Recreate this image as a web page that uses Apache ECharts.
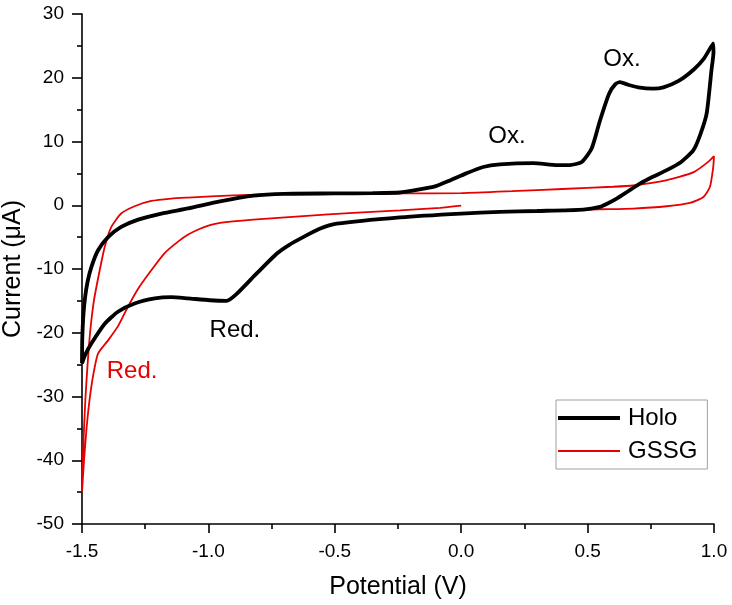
<!DOCTYPE html>
<html>
<head>
<meta charset="utf-8">
<script src="https://cdn.jsdelivr.net/npm/echarts@6/dist/echarts.min.js"></script>
<style>
html,body{margin:0;padding:0;background:#fff;}
#chart{width:732px;height:605px;}
</style>
</head>
<body>
<div id="chart"></div>
<script>
// ---- Data ----
const xTicks = [-1.5, -1.0, -0.5, 0.0, 0.5, 1.0];
const yTicks = [-50, -40, -30, -20, -10, 0, 10, 20, 30];

// Holo CV loop, in scan order (V, µA)
const holoPotential = [
  -1.5, -1.499, -1.495, -1.488, -1.478, -1.463, -1.437, -1.397, -1.345, -1.278, -1.186, -1.08, -0.954, -0.822, -0.7, -0.5, -0.35, -0.242, -0.176, -0.1, -0.044, 0.02, 0.087, 0.153, 0.285, 0.38, 0.43, 0.477, 0.516, 0.549, 0.585, 0.61, 0.628, 0.66, 0.7, 0.759, 0.8, 0.86, 0.92, 0.96, 0.997,
  0.998, 0.99, 0.971, 0.945, 0.918, 0.87, 0.813, 0.76, 0.707, 0.66, 0.615, 0.575, 0.549, 0.483, 0.3, 0.153, 0.0, -0.242, -0.493, -0.56, -0.625, -0.68, -0.73, -0.809, -0.888, -0.928, -0.994, -1.081, -1.147, -1.212, -1.292, -1.358, -1.41, -1.463, -1.488, -1.5
];
const holoCurrent = [
  -24.8, -21, -17.5, -14.5, -12, -9.7, -7.1, -5.0, -3.4, -2.25, -1.3, -0.5, 0.6, 1.5, 1.8, 1.85, 1.9, 2.0, 2.4, 3.0, 3.9, 5.0, 6.0, 6.4, 6.6, 6.3, 6.3, 6.8, 8.9, 13.3, 17.5, 19.0, 19.3, 18.9, 18.5, 18.3, 18.5, 19.5, 21.3, 23.0, 25.4,
  24, 21.2, 14.4, 11, 8.6, 6.8, 5.5, 4.5, 3.4, 2.2, 1.05, 0.2, -0.26, -0.68, -0.9, -1.05, -1.3, -1.9, -2.9, -3.7, -5.0, -6.2, -7.6, -10.7, -13.9, -15.0, -14.9, -14.6, -14.4, -14.6, -15.4, -16.7, -18.6, -21.7, -23.5, -24.8
];

// GSSG CV loop, in scan order (V, µA)
const gssgPotential = [
  0.0, -0.084, -0.242, -0.427, -0.625, -0.823, -0.954, -1.0, -1.04, -1.08, -1.12, -1.173, -1.226, -1.278, -1.318, -1.358, -1.397, -1.437, -1.455, -1.47, -1.482, -1.492, -1.5,
  -1.497, -1.492, -1.486, -1.478, -1.468, -1.453, -1.43, -1.41, -1.384, -1.345, -1.292, -1.226, -1.147, -1.08, -0.9, -0.7, -0.5, -0.24, 0.0, 0.2, 0.4, 0.6, 0.68, 0.81, 0.92, 0.977, 1.0,
  0.997, 0.984, 0.958, 0.905, 0.813, 0.681, 0.549, 0.45
];
const gssgCurrent = [
  -0.05, -0.4, -0.8, -1.2, -1.7, -2.25, -2.75, -3.2, -3.8, -4.6, -5.7, -7.5, -10.2, -13.1, -15.9, -19.0, -21.2, -23.3, -26.5, -30.5, -35, -40, -45,
  -40, -35, -30, -25, -20, -15, -10.2, -6.5, -3.4, -1.3, -0.16, 0.67, 1.05, 1.2, 1.55, 1.75, 1.8, 1.85, 1.9, 2.2, 2.55, 2.9, 3.1, 3.9, 5.2, 6.8, 7.7,
  6.0, 2.9, 1.3, 0.37, -0.16, -0.52, -0.63, -0.72
];

// Peak annotations
const noteText = ['Ox.', 'Ox.', 'Red.', 'Red.'];
const notePotential = [0.636, 0.181, -0.895, -1.302];
const noteCurrent = [22.9, 10.8, -19.6, -26.0];
const noteColor = ['#000000', '#000000', '#000000', '#e60000'];

// ---- Chart ----
const FONT = "'Liberation Sans', Arial, Helvetica, sans-serif";
const zip = (a, b) => a.map((v, i) => [v, b[i]]);

const chart = echarts.init(document.getElementById('chart'), null, {renderer: 'canvas'});

const axisCommon = {
  axisLine: {show: true, onZero: false, lineStyle: {color: '#000', width: 1.6}},
  axisTick: {show: true, inside: false, lineStyle: {color: '#000', width: 1.6}},
  minorTick: {show: true, splitNumber: 2, lineStyle: {color: '#000', width: 1.6}},
  splitLine: {show: false},
  nameLocation: 'middle',
  nameTextStyle: {fontFamily: FONT, fontSize: 25, color: '#000'}
};

chart.setOption({
  animation: false,
  backgroundColor: '#ffffff',
  grid: {left: 82, right: 18, top: 14, bottom: 81, containLabel: false, outerBoundsMode: 'none'},
  xAxis: Object.assign({}, axisCommon, {
    type: 'value',
    min: xTicks[0], max: xTicks[xTicks.length - 1], interval: 0.5,
    name: 'Potential (V)', nameGap: 51,
    axisTick: Object.assign({}, axisCommon.axisTick, {length: 9}),
    minorTick: Object.assign({}, axisCommon.minorTick, {length: 5}),
    axisLabel: {fontFamily: FONT, fontSize: 19, color: '#000', margin: 18,
      formatter: v => v.toFixed(1)}
  }),
  yAxis: Object.assign({}, axisCommon, {
    type: 'value',
    min: yTicks[0], max: yTicks[yTicks.length - 1], interval: 10,
    name: 'Current (\u03bcA)', nameGap: 51, nameRotate: 90,
    axisTick: Object.assign({}, axisCommon.axisTick, {length: 10}),
    minorTick: Object.assign({}, axisCommon.minorTick, {length: 5}),
    axisLabel: {fontFamily: FONT, fontSize: 19, color: '#000', margin: 18}
  }),
  legend: {
    orient: 'vertical', left: 556, top: 400,
    padding: [6, 10, 6, 2], itemGap: 9, itemWidth: 62, itemHeight: 24,
    borderColor: '#a0a0a0', borderWidth: 1, backgroundColor: '#fff',
    textStyle: {fontFamily: FONT, fontSize: 24, color: '#000', padding: [0, 0, 0, 3]},
    data: [
      {name: 'Holo', icon: 'path://M0,0 L62,0 L62,4 L0,4 Z', itemStyle: {color: '#000000'}},
      {name: 'GSSG', icon: 'path://M0,0 L62,0 L62,2 L0,2 Z', itemStyle: {color: '#e60000'}}
    ]
  },
  series: [
    {
      name: 'GSSG', type: 'line', data: zip(gssgPotential, gssgCurrent),
      showSymbol: false, symbol: 'none', smooth: 0.2,
      lineStyle: {color: '#e60000', width: 1.8}, itemStyle: {color: '#e60000'}, z: 2
    },
    {
      name: 'Holo', type: 'line', data: zip(holoPotential, holoCurrent),
      showSymbol: false, symbol: 'none', smooth: 0.2,
      lineStyle: {color: '#000000', width: 3.8}, itemStyle: {color: '#000000'}, z: 3
    },
    {
      name: 'notes', type: 'scatter', silent: true, symbolSize: 0, z: 5,
      itemStyle: {opacity: 1},
      data: noteText.map((t, i) => ({
        name: t, value: [notePotential[i], noteCurrent[i]],
        label: {color: noteColor[i]}
      })),
      label: {show: true, position: 'inside', formatter: p => p.name,
        fontFamily: FONT, fontSize: 24, opacity: 1}
    }
  ]
});
</script>
</body>
</html>
